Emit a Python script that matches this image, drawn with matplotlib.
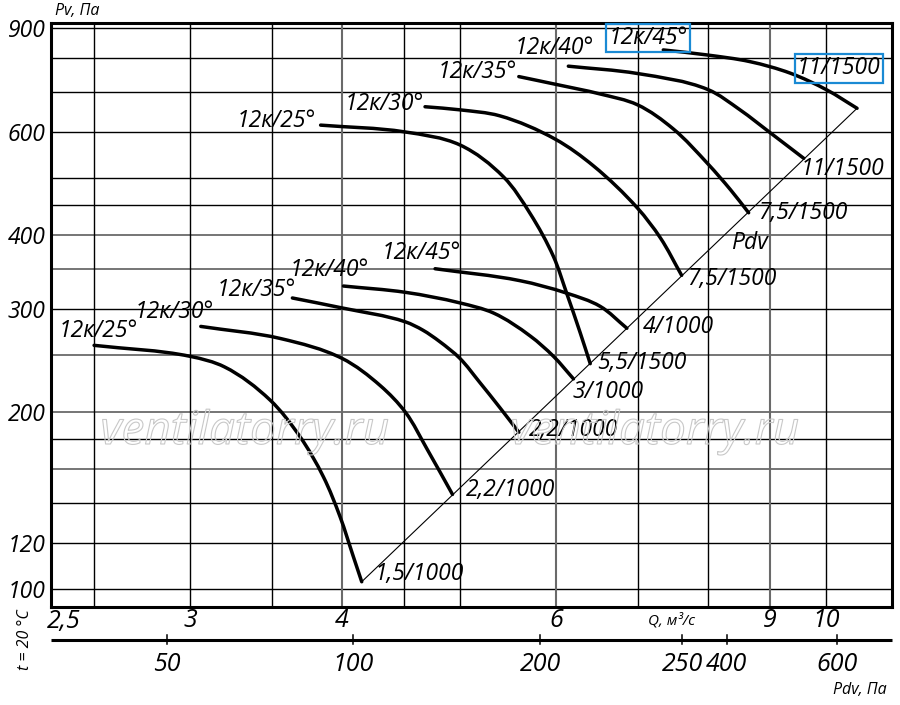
import numpy as np
import matplotlib
matplotlib.use("Agg")
import matplotlib.pyplot as plt
from matplotlib.path import Path
from matplotlib.patches import PathPatch
from matplotlib.ticker import NullLocator
import matplotlib.patheffects as pe

plt.rcParams['font.family'] = ['Open Sans', 'DejaVu Sans']
plt.rcParams['font.style'] = 'italic'

# ---------------- data (Q in m3/s, Pv in Pa) ----------------
blade_labels = ['12к/25°', '12к/30°', '12к/35°', '12к/40°', '12к/45°']

# lower family (1000 rpm)
q_lo_25 = [2.500, 3.000, 3.200, 3.489, 3.693, 3.860, 3.984, 4.086, 4.151]
pv_lo_25 = [260.0, 249.0, 239.0, 209.9, 181.8, 155.4, 132.9, 113.6, 103.0]
q_lo_30 = [3.06, 3.56, 4.00, 4.30, 4.51, 4.698, 4.93]
pv_lo_30 = [280, 267, 247, 222, 200, 173.2, 145]
q_lo_35 = [3.64, 4.00, 4.51, 4.66, 4.81, 5.00, 5.19, 5.39, 5.59]
pv_lo_35 = [313, 301, 285, 276, 264, 247, 225, 204, 185]
q_lo_40 = [4.01, 4.51, 5.00, 5.33, 5.712, 5.97, 6.20]
pv_lo_40 = [328, 320, 307, 295, 269.7, 249, 228]
q_lo_45 = [4.77, 5.60, 6.12, 6.52, 6.86]
pv_lo_45 = [351, 335, 319, 303, 278]
motors_lo = ['1,5/1000', '2,2/1000', '2,2/1000', '3/1000', '4/1000']

# upper family (1500 rpm)
q_up_25 = [3.84, 4.50, 5.00, 5.43, 5.71, 5.97, 6.12, 6.28, 6.40]
pv_up_25 = [616, 600, 570, 503, 436, 368, 319, 273, 242]
q_up_30 = [4.68, 5.00, 5.39, 5.99, 6.44, 7.00, 7.31, 7.61]
pv_up_30 = [662, 654, 639, 583, 525, 445, 396, 342]
q_up_35 = [5.59, 5.99, 6.52, 7.00, 7.49, 8.00, 8.35, 8.64]
pv_up_35 = [745, 723, 696, 667, 607, 529, 478, 437]
q_up_40 = [6.14, 7.00, 8.00, 8.50, 9.00, 9.59]
pv_up_40 = [776, 754, 708, 654, 598, 541]
q_up_45 = [7.35, 7.98, 8.66, 9.35, 10.02, 10.61]
pv_up_45 = [827, 811, 790, 755, 707, 658]
motors_up = ['5,5/1500', '7,5/1500', '7,5/1500', '11/1500', '11/1500']

# axes
pv_grid = [100, 120, 140, 160, 180, 200, 250, 300, 350, 400, 450, 500, 600, 700, 800, 900]
pv_grid_gray = [160, 200, 250, 350, 400]
pv_ticks = [100, 120, 200, 300, 400, 600, 900]
q_grid = [2.5, 3, 3.5, 4, 4.5, 5, 6, 7, 8, 9, 10]
q_grid_gray = [4, 6, 9]
q_ticks = [3, 4, 6, 9, 10]
q_tick_labels = ['3', '4', '6', '9', '10']
pdv_labels = ['50', '100', '200', '250', '400', '600']
pdv_tick_q = [2.87, 4.08, 5.82, 7.62, 8.29, 10.21]

lo_curves = [(q_lo_25, pv_lo_25), (q_lo_30, pv_lo_30), (q_lo_35, pv_lo_35),
             (q_lo_40, pv_lo_40), (q_lo_45, pv_lo_45)]
up_curves = [(q_up_25, pv_up_25), (q_up_30, pv_up_30), (q_up_35, pv_up_35),
             (q_up_40, pv_up_40), (q_up_45, pv_up_45)]

# ---------------- figure ----------------
fig = plt.figure(figsize=(9, 7.05), dpi=100)
ax = fig.add_axes([51 / 900, 1 - 607 / 705, 840.7 / 900, 584 / 705])
ax.set_xscale('log')
ax.set_yscale('log')
ax.set_xlim(2.304, 11.33)
ax.set_ylim(93.3, 919)

for v in pv_grid:
    gray = v in pv_grid_gray
    ax.axhline(v, color='#6a6a6a' if gray else 'black', lw=1.3 if gray else 1.0, zorder=1)
for v in q_grid:
    gray = v in q_grid_gray
    ax.axvline(v, color='#6a6a6a' if gray else 'black', lw=1.5 if gray else 1.0, zorder=1)

for s in ax.spines.values():
    s.set_linewidth(2.2)

ax.set_yticks(pv_ticks, [str(v) for v in pv_ticks])
ax.set_xticks(q_ticks, q_tick_labels)
ax.xaxis.set_minor_locator(NullLocator())
ax.yaxis.set_minor_locator(NullLocator())
ax.tick_params(axis='y', length=0, labelsize=16.5, pad=4)
ax.tick_params(axis='x', length=0, labelsize=18, pad=1)
ax.text(2.36, -0.004, '2,5', transform=ax.get_xaxis_transform(), ha='center', va='top', fontsize=18)


def smooth_path(qs, ps):
    # smooth Bezier through the read points, built in display space
    P = ax.transData.transform(np.column_stack([qs, ps]))
    n = len(P)
    seg = np.diff(P, axis=0)
    L = np.hypot(seg[:, 0], seg[:, 1])
    U = seg / L[:, None]
    T = np.zeros_like(P)
    T[0] = U[0]
    T[-1] = U[-1]
    for i in range(1, n - 1):
        t = U[i - 1] + U[i]
        T[i] = t / np.hypot(t[0], t[1])
    verts = [P[0]]
    codes = [Path.MOVETO]
    for i in range(n - 1):
        verts += [P[i] + T[i] * L[i] / 3.0, P[i + 1] - T[i + 1] * L[i] / 3.0, P[i + 1]]
        codes += [Path.CURVE4] * 3
    verts = ax.transData.inverted().transform(np.array(verts))
    return Path(verts, codes)


for q, p in lo_curves + up_curves:
    ax.add_patch(PathPatch(smooth_path(q, p), transform=ax.transData, fc='none',
                           ec='black', lw=2.5, capstyle='round', zorder=3))

# Pdv diagonal through curve ends
ends = [(c[0][-1], c[1][-1]) for c in lo_curves + up_curves]
e0 = min(ends)
e1 = max(ends)
ax.plot([e0[0], e1[0]], [e0[1], e1[1]], color='black', lw=0.8, zorder=2)
ax.text(8.66, 388, 'Pdv', fontsize=16.5, ha='center', va='center', zorder=5)

blue = '#1a8ad4'
blade_off_lo = [(4, 14), (-26, 14), (-36, 8), (-14, 16), (-14, 16)]
blade_off_up = [(-44, 4), (-41, 3), (-42, 5), (-14, 18), (-15, 12)]
motor_off_lo = [(13, 8), (13, 4), (10, 2), (-1, -13), (16, 1)]
motor_off_up = [(7, 1), (5, -4), (9, 0), (-3, -11), (-60, 40)]

for curves, boff, moff, motors, fam in [(lo_curves, blade_off_lo, motor_off_lo, motors_lo, 'lo'),
                                         (up_curves, blade_off_up, motor_off_up, motors_up, 'up')]:
    for i, (q, p) in enumerate(curves):
        boxed = (fam == 'up' and i == 4)
        bb = dict(boxstyle='square,pad=0.1', fc='none', ec=blue, lw=1.6) if boxed else None
        ax.annotate(blade_labels[i], (q[0], p[0]), xytext=boff[i], textcoords='offset pixels',
                    ha='center', va='center', fontsize=16.5, zorder=5, bbox=bb)
        ax.annotate(motors[i], (q[-1], p[-1]), xytext=moff[i], textcoords='offset pixels',
                    ha='left', va='center', fontsize=16.5, zorder=5, bbox=bb)

# watermark
for xc in [245, 655]:
    fig.text(xc / 900, 1 - 432 / 705, 'ventilatorry.ru', fontsize=33, ha='center', va='center',
             color=(1, 1, 1, 0), path_effects=[pe.Stroke(linewidth=0.8, foreground='#c8c8c8')],
             zorder=0)

# second axis (Pdv)
yb = -(640 - 607) / 584
ax.plot([0, 1], [yb, yb], transform=ax.transAxes, color='black', lw=2.2, clip_on=False,
        solid_capstyle='butt')
xt = ax.get_xaxis_transform()
for q, lab in zip(pdv_tick_q, pdv_labels):
    ax.plot([q, q], [yb - 0.007, yb + 0.008], transform=xt, color='black', lw=1.1, clip_on=False)
    ax.text(q, yb - 0.02, lab, transform=xt, ha='center', va='top', fontsize=18)

fig.text(55 / 900, 1 - 11 / 705, 'Pv, Па', fontsize=11.5, ha='left', va='center')
fig.text(672 / 900, 1 - 621 / 705, 'Q, м³/с', fontsize=11, ha='center', va='center')
fig.text(860 / 900, 1 - 690 / 705, 'Pdv, Па', fontsize=11.5, ha='center', va='center')
fig.text(25 / 900, 1 - 640 / 705, 't = 20 °C', fontsize=11.5, ha='center', va='center', rotation=90)

fig.savefig('out.png', dpi=100)
